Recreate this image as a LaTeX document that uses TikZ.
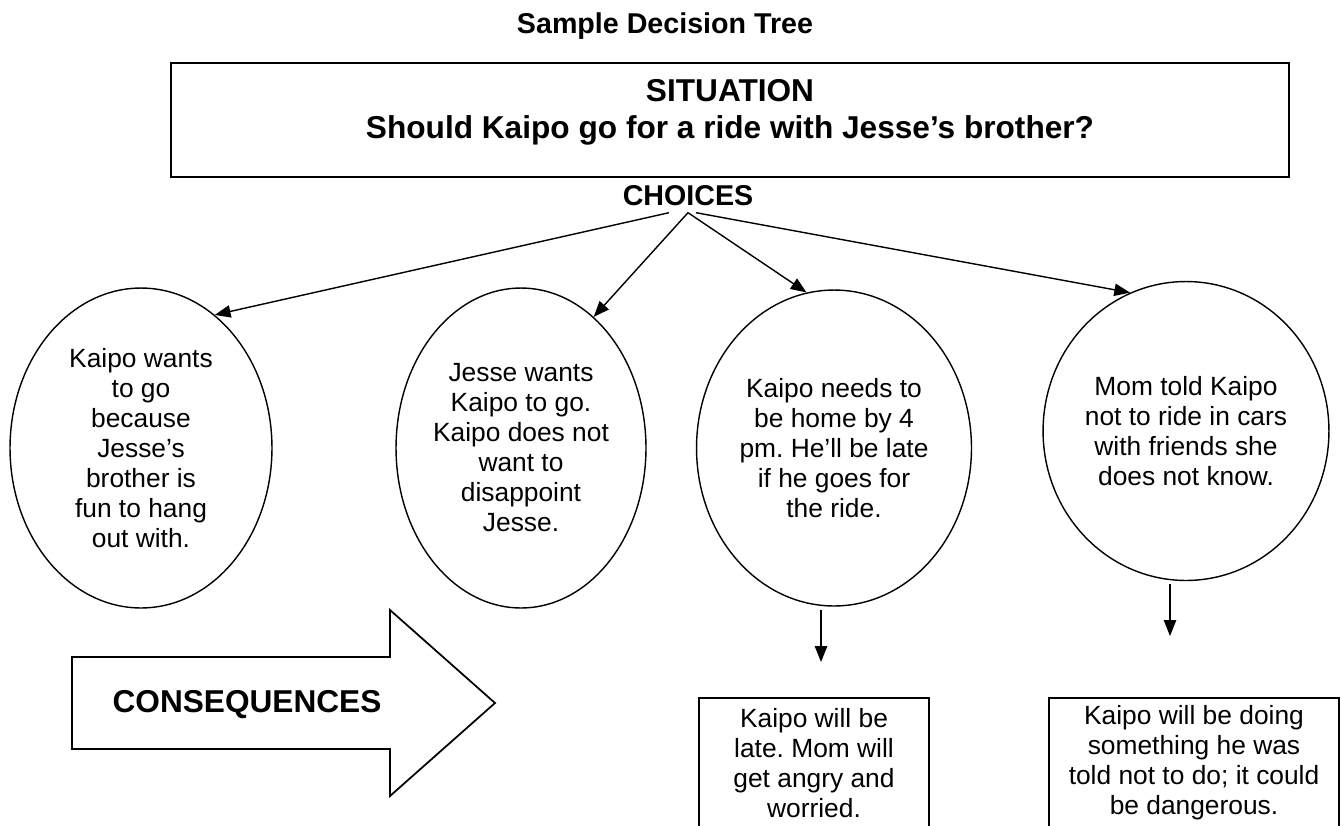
\documentclass[tikz,border=0pt]{standalone}
\usepackage{fontspec}
\setmainfont{Liberation Sans}
\usepackage{tikz}
\usetikzlibrary{arrows.meta, calc, positioning, shapes.geometric}
\frenchspacing

\tikzset{
  choice/.style={draw, ellipse, inner sep=0pt, align=center,
    font=\fontsize{15}{17.07}\selectfont},
  result/.style={draw, line width=1pt, anchor=north, inner sep=0pt, align=center,
    font=\fontsize{15}{17.07}\selectfont, minimum height=2.6cm},
  heading/.style={font=\bfseries\fontsize{16.3}{19}\selectfont},
}

\begin{document}
\begin{tikzpicture}[x=0.02cm, y=-0.02cm, >={Stealth[inset=0pt, length=9pt, width=7pt]}, thick]
                \useasboundingbox (0, 0) rectangle (1341, 825);
                \node[heading] (title) at (665, 26) {Sample Decision Tree};
                \node[draw, line width=1pt, minimum width=22.36cm, minimum height=2.28cm] (sit) at (730, 120) {};
                \node[align=center, font=\bfseries\fontsize{18}{21}\selectfont] (sittext) at (730, 112)
                      {SITUATION\\Should Kaipo go for a ride with Jesse’s brother?};
                \node[heading] (choices) at (688, 196) {CHOICES};
                \node[choice, minimum width=5.24cm, minimum height=6.4cm] (e1) at (141, 448)
                      {Kaipo wants\\to go\\because\\Jesse’s\\brother is\\fun to hang\\out with.};
                \node[choice, minimum width=5cm, minimum height=6.4cm] (e2) at (521, 448)
                      {Jesse wants\\Kaipo to go.\\Kaipo does not\\want to\\disappoint\\Jesse.};
                \node[choice, minimum width=5.5cm, minimum height=6.32cm] (e3) at (834, 448)
                      {Kaipo needs to\\be home by 4\\pm. He’ll be late\\if he goes for\\the ride.};
                \node[choice, minimum width=5.68cm, minimum height=5.98cm] (e4) at (1186, 431)
                      {Mom told Kaipo\\not to ride in cars\\with friends she\\does not know.};
                \draw[->] ($(choices.south)+(-19, 0)$) -- (e1.61);
                \draw[->] (choices.south) -- (e2.61);
                \draw[->] (choices.south) -- (e3.100);
                \draw[->] ($(choices.south)+(8, 0)$) -- (e4.112);
                % consequences
                \draw[line width=1pt] (72, 657) -- (390, 657) -- (390, 610) -- (495, 703)
                      -- (390, 796) -- (390, 749) -- (72, 749) -- cycle;
                \node[font=\bfseries\fontsize{18}{21}\selectfont] (conseq) at (247, 705) {CONSEQUENCES};
                \node[result, minimum width=4.6cm] (r3) at (814, 697)
                      {Kaipo will be\\late. Mom will\\get angry and\\worried.};
                \node[result, minimum width=5.8cm] (r4) at (1194, 697)
                      {Kaipo will be doing\\something he was\\told not to do; it could\\be dangerous.};
                \coordinate (t3) at (821, 662);
                \coordinate (t4) at (1170, 636);
                \draw[->] ($(t3 |- e3.south)+(0, 3)$) -- (t3);
                \draw[->] ($(t4 |- e4.south)+(0, 3)$) -- (t4);
            \end{tikzpicture}
\end{document}
